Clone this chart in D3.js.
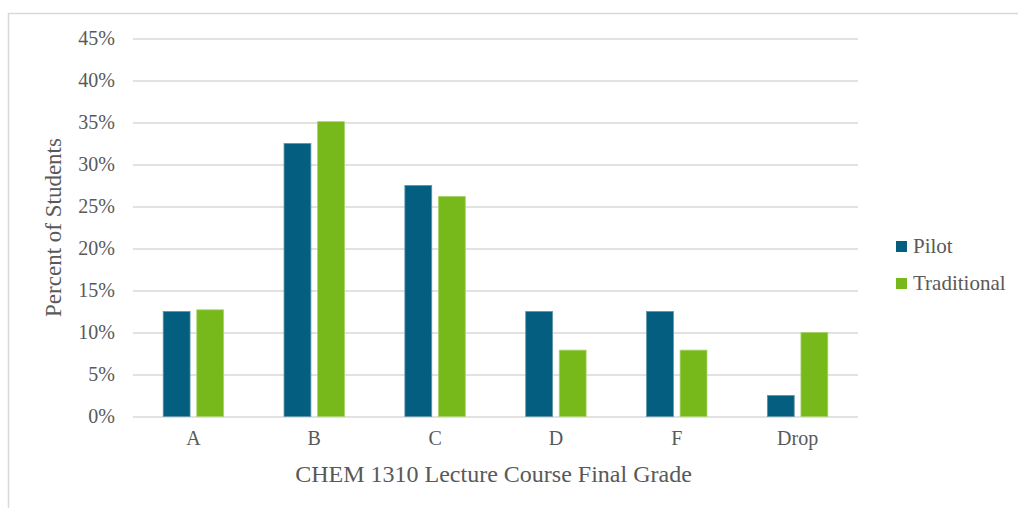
<!DOCTYPE html>
<html lang="en">
<head>
    <meta charset="UTF-8">
    <title>CHEM 1310 Final Grade</title>
    <script src="https://d3js.org/d3.v7.min.js"></script>
    <style>
        body { margin: 0; background: #fff; overflow: hidden; }
        svg { display: block; }
        svg text { font-family: "Liberation Serif", "Times New Roman", serif; }
    </style>
</head>
<body>
    <div id="chart"></div>
    <script>
        // chart data (percent of students)
        const grades = ["A", "B", "C", "D", "F", "Drop"];
        const seriesNames = ["Pilot", "Traditional"];
        const pilot = [12.5, 32.5, 27.5, 12.5, 12.5, 2.5];
        const traditional = [12.7, 35.1, 26.2, 7.9, 7.9, 10.0];
        const yTicks = [0, 5, 10, 15, 20, 25, 30, 35, 40, 45];
        const colors = ["#035e80", "#77b81b"];

        const width = 1018, height = 508;
        const margin = { left: 133, right: 160, top: 38.5, bottom: 91.5 };
        const serif = "'Liberation Serif', 'Times New Roman', serif";

        const svg = d3.select("#chart").append("svg")
            .attr("width", width)
            .attr("height", height);

        // outer frame (only top and left edges visible)
        svg.append("rect")
            .attr("x", 8.5).attr("y", 13.5)
            .attr("width", width + 20).attr("height", height + 20)
            .attr("fill", "none")
            .attr("stroke", "#d9d9d9")
            .attr("stroke-width", 1.5);

        const x0 = d3.scaleBand()
            .domain(grades)
            .range([margin.left, width - margin.right])
            .paddingInner(0.5)
            .paddingOuter(0.25);

        const x1 = d3.scaleBand()
            .domain(seriesNames)
            .range([0, x0.bandwidth()])
            .paddingInner(0.2);

        const y = d3.scaleLinear()
            .domain([0, 45])
            .range([height - margin.bottom, margin.top]);

        // gridlines + tick labels via axis
        const yAxis = d3.axisLeft(y)
            .tickValues(yTicks)
            .tickSize(-(x0.range()[1] - x0.range()[0]))
            .tickPadding(18)
            .tickFormat(d => d + "%");

        const gy = svg.append("g")
            .attr("transform", `translate(${margin.left},0)`)
            .call(yAxis);
        gy.select(".domain").remove();
        gy.selectAll(".tick line")
            .attr("stroke", "#d9d9d9")
            .attr("stroke-width", 1.3);
        gy.selectAll(".tick text")
            .attr("fill", "#595959")
            .attr("font-size", 20);

        const data = grades.map((g, i) => ({ grade: g, values: [pilot[i], traditional[i]] }));

        const groups = svg.append("g").selectAll("g")
            .data(data)
            .join("g")
            .attr("transform", d => `translate(${x0(d.grade)},0)`);

        groups.selectAll("rect")
            .data(d => d.values.map((v, j) => ({ name: seriesNames[j], value: v, idx: j })))
            .join("rect")
            .attr("x", d => x1(d.name))
            .attr("y", d => y(d.value))
            .attr("width", x1.bandwidth())
            .attr("height", d => y(0) - y(d.value))
            .attr("fill", d => colors[d.idx])
            .attr("stroke", d => d.idx === 0 ? "#5f93a8" : "#a7d36a")
            .attr("stroke-width", 0.8);

        // category labels
        const xAxis = d3.axisBottom(x0).tickSize(0).tickPadding(14);
        const gx = svg.append("g")
            .attr("transform", `translate(0,${y(0)})`)
            .call(xAxis);
        gx.select(".domain").remove();
        gx.selectAll(".tick text")
            .attr("fill", "#595959")
            .attr("font-size", 20);

        // axis titles
        svg.append("text")
            .attr("x", (x0.range()[0] + x0.range()[1]) / 2 - 2)
            .attr("y", 482)
            .attr("text-anchor", "middle")
            .attr("fill", "#595959")
            .attr("font-size", 24)
            .text("CHEM 1310 Lecture Course Final Grade");

        svg.append("text")
            .attr("transform", `translate(61,${(y(0) + y(45)) / 2}) rotate(-90)`)
            .attr("text-anchor", "middle")
            .attr("fill", "#595959")
            .attr("font-size", 23)
            .text("Percent of Students");

        // legend
        const legend = svg.append("g")
            .attr("transform", "translate(896,241)");
        const items = legend.selectAll("g")
            .data(seriesNames)
            .join("g")
            .attr("transform", (d, i) => `translate(0,${i * 37})`);
        items.append("rect")
            .attr("width", 11).attr("height", 11)
            .attr("fill", (d, i) => colors[i]);
        items.append("text")
            .attr("x", 17).attr("y", 12)
            .attr("fill", "#595959")
            .attr("font-size", 21)
            .style("font-family", serif)
            .text(d => d);
    </script>
</body>
</html>
